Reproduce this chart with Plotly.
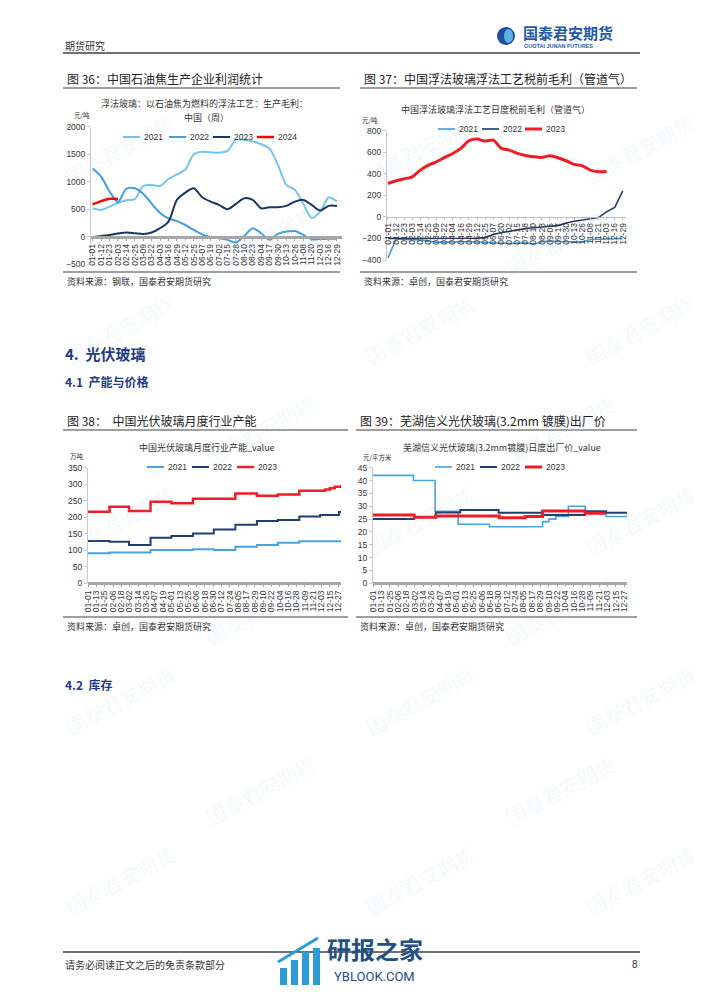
import plotly.graph_objects as go

# the page body keeps an 8px margin, so the figure is drawn 8px in from the corner
OFF = 8
W, H = 702 - OFF, 992 - OFF
YEAR = "2023-"
CJK = "Noto Sans CJK SC"
NUM = "Liberation Sans, Arial"


def px(x):
    return (x - OFF) / W


def py(y):
    return 1 - (y - OFF) / H


# ---- 图36 石油焦浮法玻璃生产毛利 (周) ----
dates_36 = ["01-01", "01-12", "01-23", "02-03", "02-14", "02-25", "03-09", "03-22", "04-03", "04-16",
            "04-29", "05-12", "05-25", "06-07", "06-19", "07-02", "07-15", "07-28", "08-10", "08-23",
            "09-04", "09-17", "09-30", "10-13", "10-26", "11-08", "11-20", "12-03", "12-16", "12-29"]
coke_2021 = [515, 485, 545, 610, 660, 680, 920, 940, 920, 1050, 1130, 1220, 1500, 1545, 1533,
             1527, 1560, 1760, 1760, 1730, 1680, 1600, 1300, 940, 850, 600, 340, 450, 710, 640]
coke_2022 = [1240, 1090, 820, 630, 870, 880, 780, 600, 430, 330, 280, 210, 120, 40, -10,
             -30, -60, -110, 10, 150, 60, -60, 50, 90, 100, 30, -50, -45, -42, -40]
coke_2023 = [-12, 12, 30, 55, 73, 61, 48, 73, 152, 273, 667, 800, 879, 715, 636,
             576, 497, 594, 697, 667, 515, 533, 533, 558, 636, 667, 576, 473, 558, 558]
coke_2024 = [585, 645, 688, 685]

# ---- 图37 管道气浮法玻璃税前毛利 (日度) ----
dates_37 = ["01-01", "01-12", "01-23", "02-03", "02-14", "02-25", "03-09", "03-22", "04-04", "04-16",
            "04-29", "05-12", "05-25", "06-07", "06-20", "07-02", "07-15", "07-28", "08-10", "08-23",
            "09-05", "09-17", "09-30", "10-13", "10-26", "11-08", "11-21", "12-03", "12-16", "12-29"]
gas_2021 = [-380, -205, -210, -210, -215, -225, -235, -235, -230, -230, -230, -235, -240, -240, -245,
            -248, -245, -240, -255, -230, -225, -225, -230, -232, -230, -210, -205, -205, -203, -200]
gas_2022 = [-200, -200, -200, -200, -200, -200, -200, -200, -200, -200, -200, -198, -192, -164, -146,
            -130, -121, -108, -99, -90, -87, -81, -56, -40, -31, -22, -6, 47, 87, 242]
gas_2023 = [310, 335, 353, 372, 434, 480, 512, 552, 589, 636, 707, 722, 704, 713, 636,
            620, 589, 570, 558, 552, 567, 549, 521, 487, 474, 434, 419, 422]

# ---- 图38 光伏玻璃月度产能 ----
ticks_day = ["01-01", "01-13", "01-25", "02-06", "02-18", "03-02", "03-14", "03-26", "04-07", "04-19",
             "05-01", "05-13", "05-25", "06-06", "06-18", "06-30", "07-12", "07-24", "08-05", "08-17",
             "08-29", "09-10", "09-22", "10-04", "10-16", "10-28", "11-09", "11-21", "12-03", "12-15", "12-27"]
cap21_dates = ["01-01", "02-01", "04-01", "06-01", "07-01", "08-01", "09-01", "10-01", "11-01", "12-31"]
cap21_vals = [91, 93, 101, 103, 101, 111, 116, 123, 127, 127]
cap22_dates = ["01-01", "02-01", "03-01", "04-01", "05-01", "06-01", "07-01", "08-01", "09-01", "10-01",
               "11-01", "12-01", "12-28", "12-31"]
cap22_vals = [128, 126, 116, 138, 143, 151, 163, 177, 189, 192, 202, 207, 216, 216]
cap23_dates = ["01-01", "02-01", "03-01", "04-01", "05-01", "06-01", "08-01", "09-01", "10-01", "11-01",
               "12-01", "12-08", "12-15", "12-22", "12-31"]
cap23_vals = [217, 232, 219, 247, 242, 256, 272, 265, 269, 280, 280, 284, 288, 292, 297]

# ---- 图39 芜湖信义 3.2mm 镀膜出厂价 ----
price21_dates = ["01-01", "02-28", "03-31", "05-03", "06-17", "09-01", "09-10", "09-20", "10-08", "11-01",
                 "12-01", "12-31"]
price21_vals = [42, 40, 28, 23, 22, 24, 25, 26, 30, 27.3, 26, 26]
price22_dates = ["01-01", "03-01", "04-01", "05-06", "06-30", "09-01", "11-01", "12-01", "12-31"]
price22_vals = [25, 25.7, 27.6, 28.5, 27.5, 26.6, 28, 27.5, 27.5]
price23_dates = ["01-01", "03-01", "04-01", "07-01", "08-07", "09-01", "11-01", "11-30"]
price23_vals = [26.6, 25.7, 26.2, 25.5, 26, 28.1, 27.3, 27.3]

LIGHT = "#4AA3DF"
NAVY = "#1F3F6E"
RED = "#EE1C25"


def d(lst):
    return [YEAR + s for s in lst]


fig = go.Figure()


def line(x, y, color, width, ax, shape="linear"):
    fig.add_trace(go.Scatter(
        x=x, y=y, mode="lines", showlegend=False, hoverinfo="skip",
        line=dict(color=color, width=width, shape=shape, smoothing=0.8 if shape == "spline" else None),
        xaxis="x" + ax, yaxis="y" + ax,
    ))


# chart 36
line(dates_36, coke_2021, "#74C4EC", 2, "", "spline")
line(dates_36, coke_2022, "#3F9FDD", 2, "", "spline")
line(dates_36, coke_2023, "#1B3660", 2, "", "spline")
line(dates_36[:len(coke_2024)], coke_2024, "#FF0000", 2.5, "", "spline")
# chart 37
line(dates_37, gas_2021, "#3D9DDE", 1.6, "2")
line(dates_37, gas_2022, "#1F3864", 1.6, "2")
line(dates_37[:len(gas_2023)], gas_2023, RED, 3, "2", "spline")
# chart 38
line(d(cap21_dates), cap21_vals, LIGHT, 2, "3", "hv")
line(d(cap22_dates), cap22_vals, NAVY, 2, "3", "hv")
line(d(cap23_dates), cap23_vals, RED, 2.5, "3", "hv")
# chart 39
line(d(price21_dates), price21_vals, LIGHT, 1.6, "4", "hv")
line(d(price22_dates), price22_vals, NAVY, 2, "4", "hv")
line(d(price23_dates), price23_vals, RED, 3, "4", "hv")

tick_font = dict(family=NUM, size=8.5, color="#333")


def yax(top, bottom, rng, dtick, anchor):
    return dict(domain=[py(bottom), py(top)], range=rng, dtick=dtick, anchor=anchor,
                showgrid=False, zeroline=False, showline=True, linecolor="#C8C8C8", linewidth=1,
                ticks="outside", ticklen=3, tickcolor="#C8C8C8", tickfont=tick_font, automargin=False)


def xax(x0, x1, labels, vals, rng, pos, lw, lc, typ):
    return dict(domain=[px(x0), px(x1)], type=typ, range=rng, anchor="free", position=pos,
                tickmode="array", tickvals=vals, ticktext=labels, tickangle=-90,
                showgrid=False, zeroline=False, showline=True, linecolor=lc, linewidth=lw,
                ticks="outside", ticklen=2, tickcolor=lc, tickfont=tick_font, automargin=False)


fig.update_layout(
    width=W, height=H, margin=dict(l=0, r=0, t=0, b=0),
    paper_bgcolor="white", plot_bgcolor="rgba(0,0,0,0)",
    xaxis=xax(91, 342, dates_36, dates_36, [-0.2, 29.6], py(236.7), 3, "#A6A6A6", "category"),
    yaxis=yax(126.7, 264, [-500, 2000], 500, "x"),
    xaxis2=xax(387, 626, dates_37, dates_37, [-0.12, 29.4], py(216.7), 1, "#BFBFBF", "category"),
    yaxis2=yax(130.7, 260, [-400, 800], 200, "x2"),
    xaxis3=xax(88, 341, ticks_day, d(ticks_day), [YEAR + "01-01", YEAR + "12-31"], py(583.3), 2.5,
               "#A6A6A6", "date"),
    yaxis3=yax(467.7, 583.3, [0, 350], 50, "x3"),
    xaxis4=xax(373, 627, ticks_day, d(ticks_day), [YEAR + "01-01", YEAR + "12-31"], py(583.3), 2.5,
               "#A6A6A6", "date"),
    yaxis4=yax(467.7, 583.3, [0, 45], 5, "x4"),
)


def text(x, y, s, size=9, color="#222", anchor="left", family=CJK, angle=0):
    fig.add_annotation(x=px(x), y=py(y), xref="paper", yref="paper", text=s, showarrow=False,
                       xanchor=anchor, yanchor="middle", textangle=angle,
                       font=dict(size=size, color=color, family=family))


def seg(x0, y0, x1, y1, color, width):
    fig.add_shape(type="line", xref="paper", yref="paper", x0=px(x0), y0=py(y0), x1=px(x1), y1=py(y1),
                  line=dict(color=color, width=width))


def legend(y, starts, items):
    for xs, (label, color, width) in zip(starts, items):
        seg(xs, y, xs + 17, y, color, width)
        text(xs + 19, y, label, 8.5, "#333", family=NUM)


# faint page watermarks
for wy, wxs in [(150, [120, 420, 640]), (240, [260, 560]), (330, [120, 420, 640]), (430, [260, 560]),
                (520, [120, 420, 640]), (610, [260, 560]), (700, [120, 420, 640]), (790, [260, 560]),
                (880, [120, 420, 640])]:
    for wx in wxs:
        text(wx, wy, "国泰君安期货", 20, "rgba(170,195,225,0.12)", "center", angle=-28)

# header, footer
text(63, 45, "期货研究", 10, "#333")
seg(63, 53, 640, 53, "#404040", 1.5)
fig.add_shape(type="circle", xref="paper", yref="paper", x0=px(497), y0=py(45), x1=px(515), y1=py(27),
              fillcolor="#1D4F9C", line=dict(width=0))
fig.add_shape(type="circle", xref="paper", yref="paper", x0=px(504), y0=py(43), x1=px(513), y1=py(29),
              fillcolor="#5DB1E6", line=dict(width=0))
text(521, 32, "<b>国泰君安期货</b>", 15, "#1F5AA6")
text(522, 46, "<b>GUOTAI JUNAN FUTURES</b>", 5.5, "#1F5AA6", family=NUM)

seg(63, 952, 640, 952, "#404040", 1.5)
text(63, 964, "请务必阅读正文之后的免责条款部分", 10, "#333")
text(640, 964, "8", 10, "#333", "right", NUM)
for bx, top in [(280, 968), (291, 960), (302, 952), (313, 948)]:
    fig.add_shape(type="rect", xref="paper", yref="paper", x0=px(bx), y0=py(985), x1=px(bx + 7), y1=py(top),
                  fillcolor="#2E9AD6", line=dict(width=0))
seg(278, 962, 318, 938, "#2E9AD6", 3)
text(375, 948, "<b>研报之家</b>", 24, "#24507F", "center")
text(375, 976, "YBLOOK.COM", 13, "#24507F", "center", "Roboto, " + NUM)

# chart 36 texts
text(65, 78, "图 36：中国石油焦生产企业利润统计", 12, "#222")
seg(63, 88, 340, 88, "#404040", 1.2)
text(204, 104, "浮法玻璃：以石油焦为燃料的浮法工艺：生产毛利：", 9, "#333", "center")
text(207, 117, "中国（周）", 9, "#333", "center")
text(82, 115, "元/吨", 6.5, "#333", "center")
legend(137, [123, 169, 213, 257], [("2021", "#74C4EC", 2), ("2022", "#3F9FDD", 2),
                                  ("2023", "#1B3660", 2), ("2024", "#FF0000", 2.5)])
seg(63, 272, 340, 272, "#404040", 1.2)
text(65, 281, "资料来源：钢联，国泰君安期货研究", 9, "#333")

# chart 37 texts
text(362, 78, "图 37：中国浮法玻璃浮法工艺税前毛利（管道气）", 12, "#222")
seg(360, 88, 637, 88, "#404040", 1.2)
text(495, 110, "中国浮法玻璃浮法工艺日度税前毛利（管道气）", 9, "#333", "center")
text(370, 120, "元/吨", 6.5, "#333", "center")
legend(129, [438, 482, 525], [("2021", "#3D9DDE", 1.6), ("2022", "#1F3864", 1.6), ("2023", RED, 3)])
seg(360, 272, 637, 272, "#404040", 1.2)
text(362, 281, "资料来源：卓创，国泰君安期货研究", 9, "#333")

# section headings
text(63, 353, "<b>4.  光伏玻璃</b>", 15, "#1F3C82")
text(63, 381, "<b>4.1  产能与价格</b>", 12, "#1F3C82")
text(63, 684, "<b>4.2  库存</b>", 12, "#1F3C82")

# chart 38 texts
text(65, 420, "图 38：  中国光伏玻璃月度行业产能", 12, "#222")
seg(63, 430, 348, 430, "#404040", 1.2)
text(207, 447, "中国光伏玻璃月度行业产能_value", 9, "#333", "center")
text(77, 456, "万吨", 6.5, "#333", "center")
legend(467, [147, 192, 237], [("2021", LIGHT, 2), ("2022", NAVY, 2), ("2023", RED, 2.5)])
seg(63, 617, 348, 617, "#404040", 1.2)
text(65, 626, "资料来源：卓创，国泰君安期货研究", 9, "#333")

# chart 39 texts
text(358, 420, "图 39：芜湖信义光伏玻璃(3.2mm 镀膜)出厂价", 12, "#222")
seg(356, 430, 637, 430, "#404040", 1.2)
text(502, 447, "芜湖信义光伏玻璃(3.2mm镀膜)日度出厂价_value", 9, "#333", "center")
text(377, 457, "元/平方米", 6.5, "#333", "center")
legend(467, [435, 480, 525], [("2021", LIGHT, 1.6), ("2022", NAVY, 2), ("2023", RED, 3)])
seg(356, 617, 637, 617, "#404040", 1.2)
text(358, 626, "资料来源：卓创，国泰君安期货研究", 9, "#333")

fig.write_html("out.html")
